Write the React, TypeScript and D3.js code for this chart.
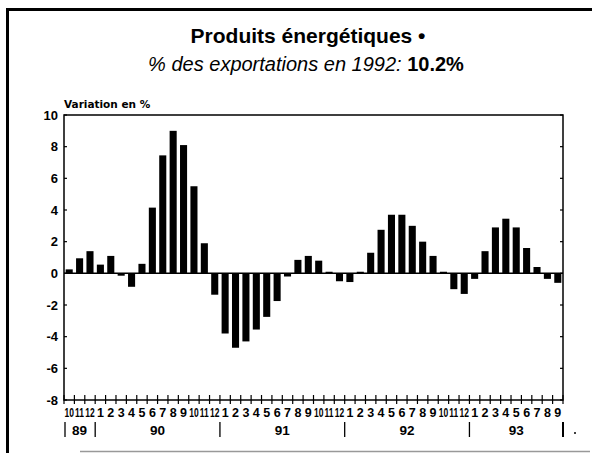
import React from "react";
import * as d3 from "d3";

const months = [
  "10","11","12",
  "1","2","3","4","5","6","7","8","9","10","11","12",
  "1","2","3","4","5","6","7","8","9","10","11","12",
  "1","2","3","4","5","6","7","8","9","10","11","12",
  "1","2","3","4","5","6","7","8","9",
];
const values = [
  0.25, 0.95, 1.4,
  0.55, 1.1, -0.15, -0.85, 0.6, 4.15, 7.45, 9.0, 8.1, 5.5, 1.9, -1.35,
  -3.8, -4.7, -4.3, -3.55, -2.75, -1.75, -0.2, 0.85, 1.1, 0.8, 0.1, -0.5,
  -0.55, 0.1, 1.3, 2.75, 3.7, 3.7, 3.0, 2.0, 1.1, 0.1, -1.0, -1.3,
  -0.35, 1.4, 2.9, 3.45, 2.9, 1.6, 0.4, -0.35, -0.6,
];
const years = ["89", "90", "91", "92", "93"];
const yearStarts = [0, 3, 15, 27, 39, 48];
const yTicks = [10, 8, 6, 4, 2, 0, -2, -4, -6, -8];

const W = 592, H = 453;
const left = 64, right = 563, top = 115, bottom = 400;
const font = "'Liberation Sans', Arial, Helvetica, sans-serif";
const heavy = "'DejaVu Sans', 'Liberation Sans', sans-serif";

export default function App() {
  const idx = months.map((_, i) => i);
  const x = d3.scaleBand<number>().domain(idx).range([left, right]).paddingInner(0.32).paddingOuter(0.16);
  const xb = d3.scaleLinear().domain([0, months.length]).range([left, right]);
  const y = d3.scaleLinear().domain([-8, 10]).range([bottom, top]);

  return (
    <svg width={W} height={H} style={{ position: "absolute", left: 0, top: 0, background: "#fff" }} fontFamily={font}>
      <rect x={0} y={0} width={W} height={H} fill="#fff" />
      {/* frame */}
      <line x1={6} x2={W} y1={9.5} y2={9.5} stroke="#000" strokeWidth={3} />
      <line x1={7.5} x2={7.5} y1={8} y2={H} stroke="#000" strokeWidth={3} />
      <line x1={80} x2={590} y1={451.5} y2={451.5} stroke="#999" strokeWidth={1.5} />

      {/* titles */}
      <text x={308} y={43} textAnchor="middle" fontSize={21} fontWeight="bold">Produits énergétiques •</text>
      <text x={306} y={71} textAnchor="middle" fontSize={20}>
        <tspan fontStyle="italic">% des exportations en 1992: </tspan>
        <tspan fontWeight="bold">10.2%</tspan>
      </text>
      <text x={64} y={108} fontSize={10.5} fontWeight="bold" fontFamily={heavy}>Variation en %</text>

      {/* bars */}
      {values.map((v, i) => (
        <rect key={i} x={x(i)} width={x.bandwidth()} y={y(Math.max(0, v))}
          height={Math.abs(y(v) - y(0))} fill="#000" />
      ))}
      <line x1={left} x2={right} y1={y(0)} y2={y(0)} stroke="#000" strokeWidth={1.5} />

      {/* plot frame */}
      <rect x={left} y={top} width={right - left} height={bottom - top} fill="none" stroke="#000" strokeWidth={1.5} />

      {/* y ticks */}
      {yTicks.map((t) => (
        <g key={t}>
          <line x1={left} x2={left + 3} y1={y(t)} y2={y(t)} stroke="#000" strokeWidth={1.2} />
          <line x1={right - 3} x2={right} y1={y(t)} y2={y(t)} stroke="#000" strokeWidth={1.2} />
          <text x={58} y={y(t) + 4.5} textAnchor="end" fontSize={13} fontWeight="bold">{t}</text>
        </g>
      ))}

      {/* x ticks */}
      {d3.range(months.length + 1).map((i) => (
        <line key={i} x1={xb(i)} x2={xb(i)} y1={bottom - 5} y2={bottom + 4} stroke="#000" strokeWidth={1.2} />
      ))}
      {months.map((m, i) => (
        <text key={i} textAnchor="middle" fontSize={12.5} fontWeight="bold"
          transform={`translate(${x(i)! + x.bandwidth() / 2},417) scale(${m.length > 1 ? 0.68 : 1},1)`}>{m}</text>
      ))}

      {/* years */}
      {years.map((yr, k) => (
        <text key={yr} x={(xb(yearStarts[k]) + xb(yearStarts[k + 1])) / 2} y={435} textAnchor="middle" fontSize={13.5} fontWeight="bold">{yr}</text>
      ))}
      {yearStarts.map((s, k) => (
        <line key={k} x1={xb(s) + (k === 0 ? 1 : 0)} x2={xb(s) + (k === 0 ? 1 : 0)} y1={422} y2={437} stroke="#000" strokeWidth={k === yearStarts.length - 1 ? 2 : 1.3} />
      ))}
      <circle cx={575} cy={433} r={1} fill="#000" />
    </svg>
  );
}
